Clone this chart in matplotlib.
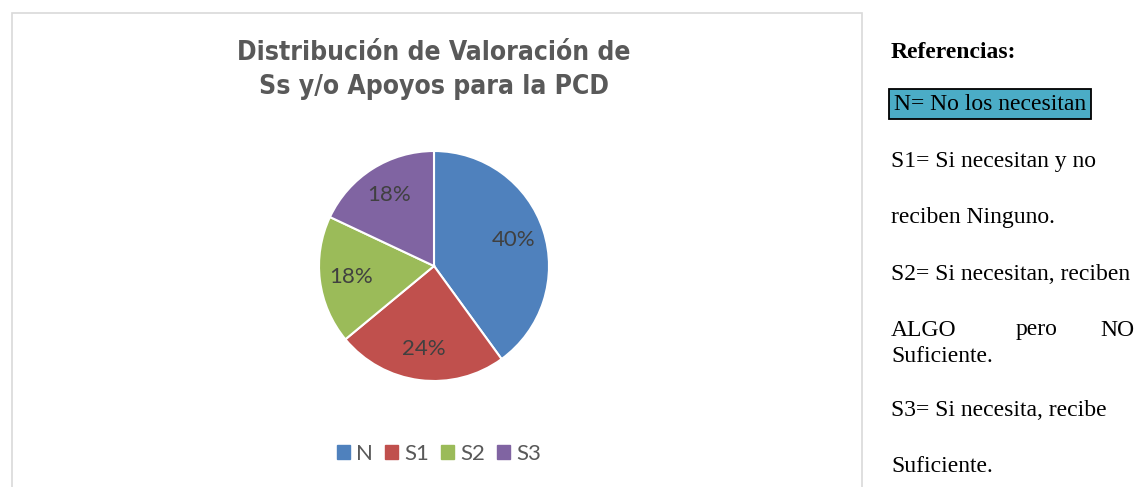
import matplotlib.pyplot as plt
from matplotlib.patches import Rectangle, Patch

# data
labels = ["N", "S1", "S2", "S3"]
values = [40, 24, 18, 18]
colors = ["#4F81BD", "#C0504D", "#9BBB59", "#8064A2"]

title = "Distribución de Valoración de\nSs y/o Apoyos para la PCD"
ref_title = "Referencias:"
ref_lines = [
    "S1= Si necesitan y no",
    "reciben Ninguno.",
    "S2= Si necesitan, reciben",
]
W, H = 1135, 487

fig = plt.figure(figsize=(W / 100, H / 100), dpi=100)

def fx(px):
    return px / W

def fy(py):
    return 1 - py / H

# chart border
fig.patches.append(Rectangle((fx(12), fy(500)), fx(862) - fx(12), fy(13) - fy(500),
                             transform=fig.transFigure, fill=False,
                             edgecolor="#D9D9D9", linewidth=1.2))

# pie
cx, cy, r = 434, 266, 115
ax = fig.add_axes([fx(cx - r), fy(cy + r), 2 * r / W, 2 * r / H])
wedges, texts, autotexts = ax.pie(
    values, colors=colors, startangle=90, counterclock=False,
    autopct="%1.0f%%", pctdistance=0.73,
    wedgeprops=dict(edgecolor="white", linewidth=1.5),
    textprops=dict(color="#404040", fontsize=16, family="Lato"))
ax.set_xlim(-1, 1)
ax.set_ylim(-1, 1)
ax.set_aspect("auto")
ax.axis("off")

# title
fig.text(fx(434), fy(70), title, ha="center", va="center", fontsize=19,
         fontweight="bold", color="#595959", family="DejaVu Sans",
         linespacing=1.45, fontstretch="condensed")

# legend
handles = [Patch(facecolor=c, edgecolor=c) for c in colors]
fig.legend(handles, labels, loc="center", bbox_to_anchor=(fx(439), fy(454)),
           ncol=4, frameon=False, prop=dict(family="Lato", size=16),
           labelcolor="#595959", handlelength=0.6, handleheight=0.6,
           handletextpad=0.25, columnspacing=0.55)

# references text
serif = "Liberation Serif"
fs = 17
fig.text(fx(891), fy(52), ref_title, ha="left", va="center", fontsize=fs,
         fontweight="bold", family=serif)
fig.text(fx(894), fy(104), "N= No los necesitan", ha="left", va="center",
         fontsize=fs, family=serif,
         bbox=dict(boxstyle="square,pad=0.2", facecolor="#4BACC6",
                   edgecolor="black", linewidth=1.3))
for y, line in zip([161, 218, 275], ref_lines):
    fig.text(fx(891), fy(y), line, ha="left", va="center", fontsize=fs, family=serif)
fig.text(fx(891), fy(330), "ALGO", ha="left", va="center", fontsize=fs, family=serif)
fig.text(fx(1037), fy(330), "pero", ha="center", va="center", fontsize=fs, family=serif)
fig.text(fx(1134), fy(330), "NO", ha="right", va="center", fontsize=fs, family=serif)
fig.text(fx(891), fy(356), "Suficiente.", ha="left", va="center", fontsize=fs, family=serif)
fig.text(fx(891), fy(410), "S3= Si necesita, recibe", ha="left", va="center", fontsize=fs, family=serif)
fig.text(fx(891), fy(466), "Suficiente.", ha="left", va="center", fontsize=fs, family=serif)

fig.savefig("out.png", dpi=100)
